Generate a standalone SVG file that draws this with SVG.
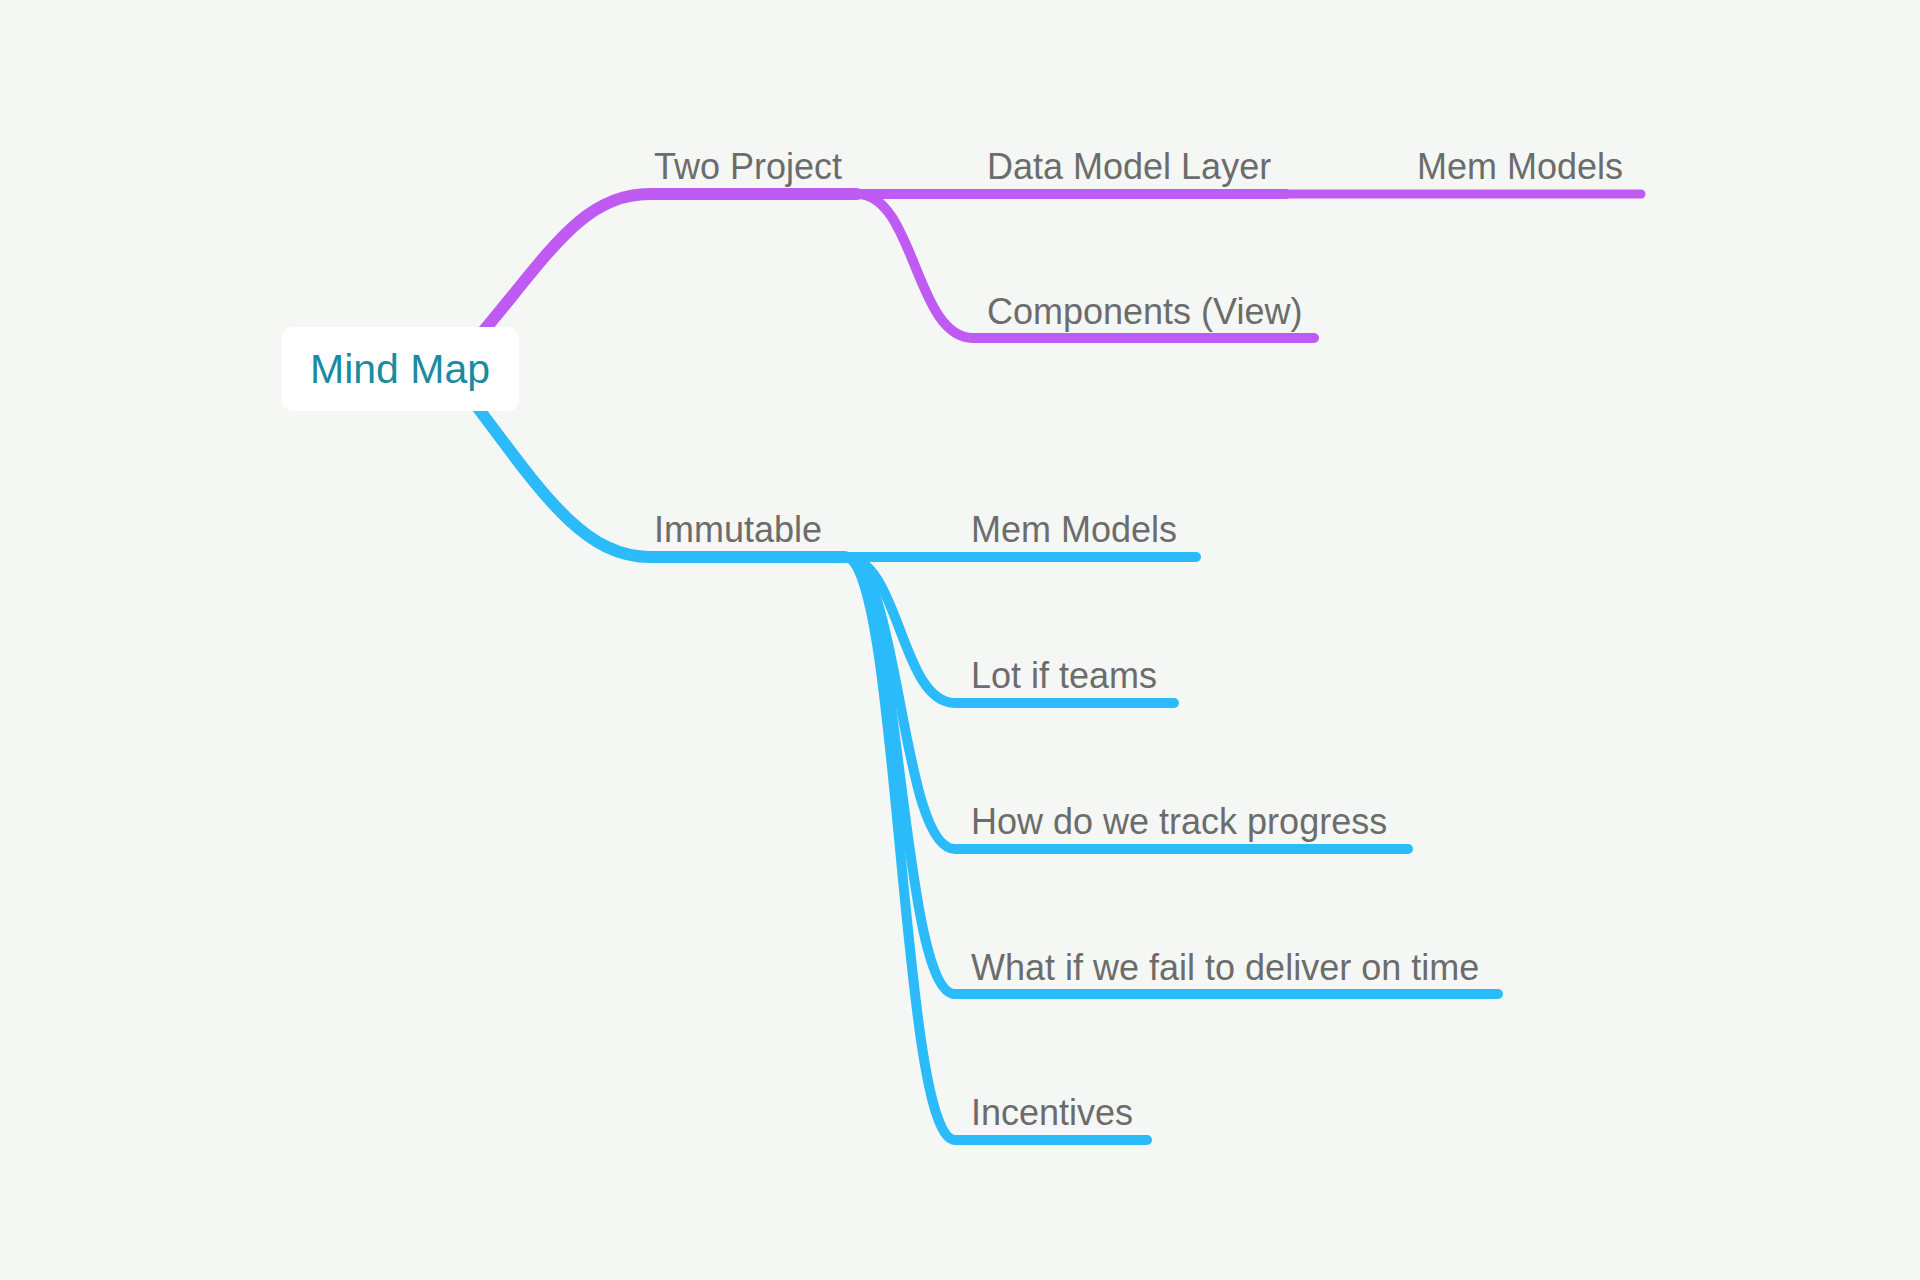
<svg xmlns="http://www.w3.org/2000/svg" width="1920" height="1280" viewBox="0 0 1920 1280">
<style>
.bg{fill:#f5f7f5}
.p{fill:none;stroke:#bf5af2;stroke-linecap:round;stroke-linejoin:round}
.b{fill:none;stroke:#2cbbfa;stroke-linecap:round;stroke-linejoin:round}
.w1{stroke-width:12}
.w2{stroke-width:10}
.w3{stroke-width:9}
.t{font-family:"Liberation Sans",Arial,sans-serif;font-size:36px;fill:#6c6c6c}
.root{font-family:"Liberation Sans",Arial,sans-serif;font-size:40px;fill:#1a8ba1}
</style>
<rect class="bg" x="0" y="0" width="1920" height="1280"/>
<g id="connectors">
<path class="p w1" d="M430,392 C540,275 570,194 650,194 L857,194"/>
<path class="p w2" d="M857,194 L1286,194"/>
<path class="p w3" d="M1286,194 L1641,194"/>
<path class="p w2" d="M857,194 C915,194 915,338 973,338 L1314,338"/>
<path class="b w1" d="M430,346 C525,463 570,557 650,557 L845,557"/>
<path class="b w2" d="M845,557 L1196,557"/>
<path class="b w2" d="M845,557 C900,557 900,703 955,703 L1174,703"/>
<path class="b w2" d="M845,557 C900,557 900,849 955,849 L1408,849"/>
<path class="b w2" d="M845,557 C900,557 900,994 955,994 L1498,994"/>
<path class="b w2" d="M845,557 C900,557 900,1140 955,1140 L1147,1140"/>
</g>
<g id="root">
<rect x="282" y="327" width="237" height="84" rx="11" fill="#ffffff"/>
<text class="root" x="310" y="383" textLength="180" lengthAdjust="spacingAndGlyphs">Mind Map</text>
</g>
<g id="n-two-project"><text class="t" x="654" y="179">Two Project</text></g>
<g id="n-data-model-layer"><text class="t" x="987" y="179">Data Model Layer</text></g>
<g id="n-mem-models-1"><text class="t" x="1417" y="179">Mem Models</text></g>
<g id="n-components"><text class="t" x="987" y="324">Components (View)</text></g>
<g id="n-immutable"><text class="t" x="654" y="542">Immutable</text></g>
<g id="n-mem-models-2"><text class="t" x="971" y="542">Mem Models</text></g>
<g id="n-lot-if-teams"><text class="t" x="971" y="688">Lot if teams</text></g>
<g id="n-track"><text class="t" x="971" y="834">How do we track progress</text></g>
<g id="n-fail"><text class="t" x="971" y="980">What if we fail to deliver on time</text></g>
<g id="n-incentives"><text class="t" x="971" y="1125">Incentives</text></g>
</svg>
